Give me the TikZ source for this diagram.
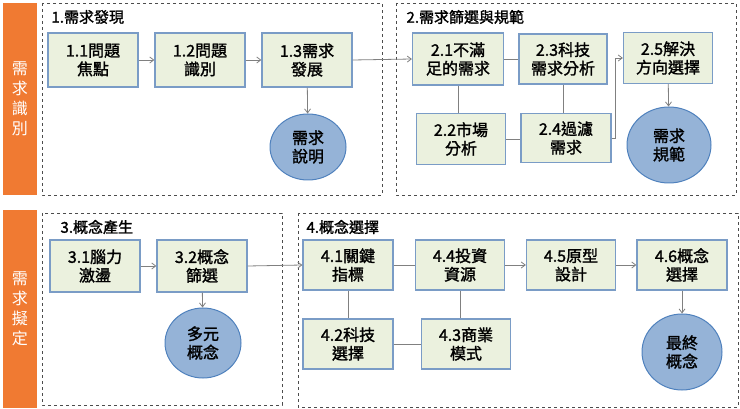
\documentclass[tikz,border=0pt]{standalone}
\usepackage{fontspec}
\setmainfont{Noto Sans CJK TC}
\newfontfamily\mfont{Noto Sans CJK TC}[FakeBold=1.5]
\usetikzlibrary{arrows.meta,shapes.geometric}
\definecolor{bfill}{HTML}{EBF1DE}
\definecolor{bdraw}{HTML}{7A9CC6}
\definecolor{cfill}{HTML}{95B3D7}
\definecolor{cdraw}{HTML}{4F81BD}
\definecolor{bar}{HTML}{F07A32}
\definecolor{con}{HTML}{808080}
\begin{document}
\begin{tikzpicture}[x=1pt,y=-1pt,
  bx/.style={draw=bdraw,fill=bfill,line width=1.2pt,inner sep=0pt,font=\mfont\fontsize{16}{18.5}\selectfont,align=center},
  cir/.style={ellipse,draw=cdraw,fill=cfill,line width=1pt,inner sep=0pt,font=\mfont\fontsize{16}{18.5}\selectfont,align=center},
  frame/.style={draw=black!70,dashed,line width=0.8pt},
  ttl/.style={anchor=west,font=\mfont\fontsize{15}{17}\selectfont},
  ln/.style={draw=con,line width=0.8pt},
  ar/.style={ln,-{Straight Barb[length=4pt,width=6pt]}},
  barn/.style={fill=bar,text=white,inner sep=0pt,align=center,font=\fontsize{16}{20}\selectfont}]
\useasboundingbox (0,0) rectangle (740,409);
% bars
\node[barn,minimum width=34pt,minimum height=192pt] (bar1) at (20,99) {需\\求\\識\\別};
\node[barn,minimum width=34pt,minimum height=198pt] (bar2) at (20,309) {需\\求\\擬\\定};
% frames
\draw[frame] (42,3) rectangle (382,195);
\draw[frame] (396,3) rectangle (736,195);
\draw[frame] (42,213) rectangle (282,405);
\draw[frame] (298,213) rectangle (738,407);
\node[ttl] (t1) at (48,17) {1.需求發現};
\node[ttl] (t2) at (403,17) {2.需求篩選與規範};
\node[ttl] (t3) at (57,227) {3.概念產生};
\node[ttl] (t4) at (303,227) {4.概念選擇};
% section 1
\node[bx,minimum width=90pt,minimum height=54pt] (n11) at (93,60) {1.1問題\\焦點};
\node[bx,minimum width=90pt,minimum height=54pt] (n12) at (200,60) {1.2問題\\識別};
\node[bx,minimum width=90pt,minimum height=54pt] (n13) at (307,60) {1.3需求\\發展};
\node[cir,minimum width=76pt,minimum height=66pt] (c1) at (308,147) {需求\\說明};
% section 2
\node[bx,minimum width=91pt,minimum height=52pt] (n21) at (458,59) {2.1不滿\\足的需求};
\node[bx,minimum width=88pt,minimum height=50pt] (n23) at (563,59) {2.3科技\\需求分析};
\node[bx,minimum width=89pt,minimum height=51pt] (n25) at (668,58) {2.5解決\\方向選擇};
\node[bx,minimum width=89pt,minimum height=51pt] (n22) at (461,139) {2.2市場\\分析};
\node[bx,minimum width=90pt,minimum height=49pt] (n24) at (566,138) {2.4過濾\\需求};
\node[cir,minimum width=84pt,minimum height=76pt] (c2) at (669,145) {需求\\規範};
% section 3
\node[bx,minimum width=90pt,minimum height=52pt] (n31) at (95,266) {3.1腦力\\激盪};
\node[bx,minimum width=90pt,minimum height=52pt] (n32) at (202,266) {3.2概念\\篩選};
\node[cir,minimum width=76pt,minimum height=70pt] (c3) at (203,343) {多元\\概念};
% section 4
\node[bx,minimum width=90pt,minimum height=50pt] (n41) at (348,265) {4.1關鍵\\指標};
\node[bx,minimum width=89pt,minimum height=50pt] (n44) at (460,265) {4.4投資\\資源};
\node[bx,minimum width=89pt,minimum height=50pt] (n45) at (571,265) {4.5原型\\設計};
\node[bx,minimum width=90pt,minimum height=50pt] (n46) at (682,265) {4.6概念\\選擇};
\node[bx,minimum width=90pt,minimum height=50pt] (n42) at (348,344) {4.2科技\\選擇};
\node[bx,minimum width=89pt,minimum height=50pt] (n43) at (466,344) {4.3商業\\模式};
\node[cir,minimum width=80pt,minimum height=76pt] (c4) at (682,352) {最終\\概念};
% connectors
\draw[ar] (n11) -- (n12);
\draw[ar] (n12) -- (n13);
\draw[ar] (n13) -- (c1);
\draw[ar] (n13.east) -- (n21.west);
\draw[ln] (n21.east) -- (n21.east -| n23.west);
\draw[ln] (n21.south) -- (n21.south |- n22.north);
\draw[ln] (n22.east) -- (n22.east -| n24.west);
\draw[ln] (n23.south) -- (n23.south |- n24.north);
\draw[ar] (n24.east) -- ++(4,0) |- (n25.west);
\draw[ar] (n25) -- (c2);
\draw[ar] (n31) -- (n32);
\draw[ar] (n32) -- (c3);
\draw[ar] (n32.east) -- (n41.west);
\draw[ln] (n41) -- (n44);
\draw[ln] (n41.south) -- (n41.south |- n42.north);
\draw[ln] (n42.east) -- (n42.east -| n43.west);
\draw[ln] (n44.south) -- (n44.south |- n43.north);
\draw[ar] (n44) -- (n45);
\draw[ar] (n45) -- (n46);
\draw[ar] (n46) -- (c4);
\end{tikzpicture}
\end{document}
